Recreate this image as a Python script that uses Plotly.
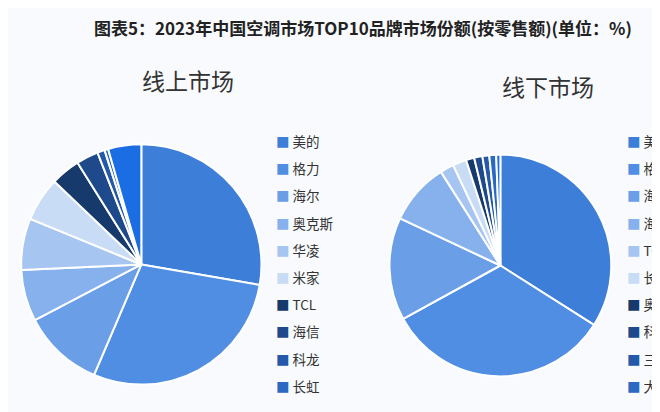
import plotly.graph_objects as go

# online market share (%), clockwise from 12 o'clock
online_brands = ["美的", "格力", "海尔", "奥克斯", "华凌", "米家", "TCL", "海信", "科龙", "长虹", "其他"]
online_share = [28.0, 29.0, 11.0, 7.0, 7.0, 6.0, 4.0, 3.0, 1.0, 0.5, 4.5]
online_colors = ["#3d7fd8", "#4f8ee2", "#6a9fe8", "#86b1ec", "#a6c6f1", "#c8dcf6",
                 "#173a6c", "#1e4a8c", "#2458a8", "#2b69c2", "#1b6de3"]

# offline market share (%)
offline_brands = ["美的", "格力", "海尔", "海信", "TCL", "长虹", "奥克斯", "科龙", "三菱", "大金", "其他"]
offline_share = [34.0, 33.0, 15.0, 9.0, 2.0, 2.0, 1.2, 1.2, 1.0, 1.0, 0.6]
offline_colors = ["#3d7fd8", "#4f8ee2", "#6a9fe8", "#86b1ec", "#a6c6f1", "#c8dcf6",
                  "#173a6c", "#1e4a8c", "#2458a8", "#2b69c2", "#1b6de3"]

font = "Noto Sans CJK SC"

fig = go.Figure()
fig.add_trace(go.Pie(labels=online_brands, values=online_share, sort=False,
                     direction="clockwise", rotation=0, textinfo="none",
                     hoverinfo="label+percent",
                     marker=dict(colors=online_colors, line=dict(color="white", width=2)),
                     domain=dict(x=[0.02, 0.384], y=[0.085, 0.67])))
fig.add_trace(go.Pie(labels=offline_brands, values=offline_share, sort=False,
                     direction="clockwise", rotation=0, textinfo="none",
                     hoverinfo="label+percent",
                     marker=dict(colors=offline_colors, line=dict(color="white", width=2)),
                     domain=dict(x=[0.578, 0.914], y=[0.105, 0.645])))

annotations = [
    dict(text="<b>图表5：2023年中国空调市场TOP10品牌市场份额(按零售额)(单位：%)</b>",
         x=355 / 660, y=1 - 20 / 412, font=dict(size=17, color="#222")),
    dict(text="线上市场", x=180 / 660, y=1 - 72 / 412, font=dict(size=23, color="#333")),
    dict(text="线下市场", x=540 / 660, y=1 - 78 / 412, font=dict(size=23, color="#333")),
]

# hand-drawn legends (row spacing wider than plotly's default legend)
def legend_rows(brands, colors, x_px, y0_px):
    rows = []
    for i, (b, c) in enumerate(zip(brands[:10], colors[:10])):
        rows.append(dict(
            text=f'<span style="color:{c}">■</span> {b}',
            x=x_px / 660, y=1 - (y0_px + i * 27.2) / 412,
            xanchor="left", font=dict(size=13.5, color="#333")))
    return rows

annotations += legend_rows(online_brands, online_colors, 266, 133)
annotations += legend_rows(offline_brands, offline_colors, 617, 133)

for a in annotations:
    a.setdefault("xanchor", "center")
    a.update(xref="paper", yref="paper", showarrow=False, yanchor="middle")

fig.update_layout(
    width=660, height=412,
    margin=dict(l=0, r=0, t=0, b=0),
    paper_bgcolor="#f8fafd",
    showlegend=False,
    font=dict(family=font),
    annotations=annotations,
)

fig.write_html("out.html")
